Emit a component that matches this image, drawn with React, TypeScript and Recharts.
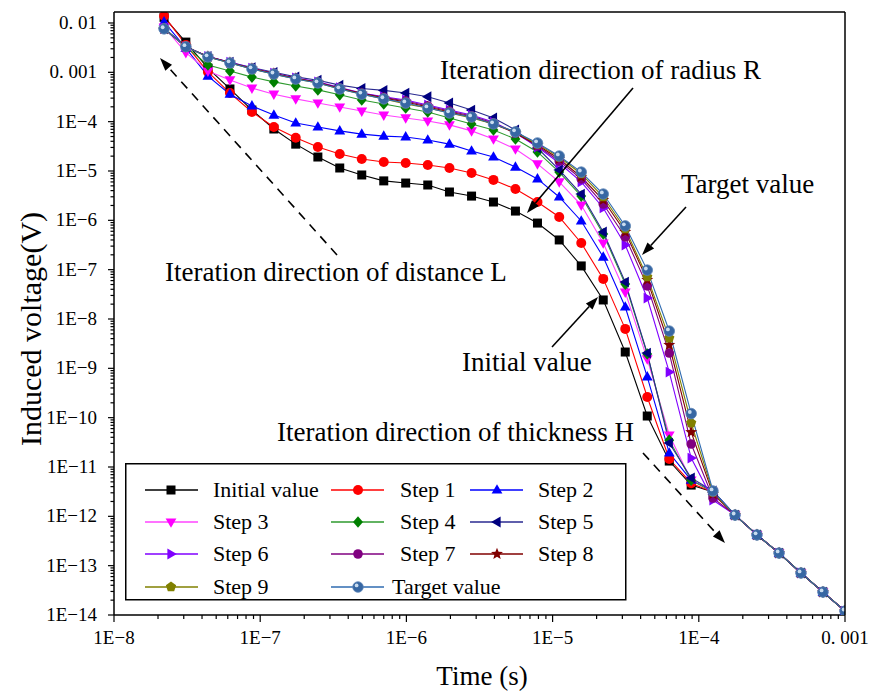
import React from "react";
import { LineChart, Line, XAxis, YAxis, Legend } from "recharts";

const W = 871;
const H = 693;
const FONT = "Liberation Serif, Times New Roman, serif";

// time samples (s)
const times = [
  2.2e-8, 3.1e-8, 4.39e-8, 6.21e-8, 8.78e-8, 1.24e-7, 1.75e-7, 2.48e-7, 3.5e-7, 4.95e-7, 7.0e-7,
  9.89e-7, 1.4e-6, 1.97e-6, 2.79e-6, 3.94e-6, 5.57e-6, 7.88e-6, 1.11e-5, 1.57e-5, 2.22e-5,
  3.14e-5, 4.44e-5, 6.28e-5, 8.87e-5, 1.25e-4, 1.77e-4, 2.5e-4, 3.54e-4, 5.0e-4, 7.07e-4, 1.0e-3,
];

const initialValue = [
  1.3e-2, 4.1e-3, 1.22e-3, 4.6e-4, 1.72e-4, 7.1e-5, 3.5e-5, 1.92e-5, 1.15e-5, 8.3e-6, 6.3e-6,
  5.7e-6, 5.2e-6, 3.75e-6, 3.1e-6, 2.35e-6, 1.54e-6, 8.8e-7, 4.0e-7, 1.19e-7, 2.43e-8,
  2.14e-9, 1.08e-10, 1.32e-11, 4.3e-12, 3.1e-12, 1.06e-12, 4.2e-13, 1.8e-13, 7.1e-14, 2.92e-14, 1.2e-14,
];
const step1 = [
  1.39e-2, 3.6e-3, 1.02e-3, 3.8e-4, 1.57e-4, 7.8e-5, 4.7e-5, 3.06e-5, 2.21e-5, 1.75e-5, 1.52e-5,
  1.45e-5, 1.32e-5, 1.15e-5, 9.1e-6, 6.6e-6, 4.3e-6, 2.35e-6, 1.17e-6, 3.47e-7, 6.5e-8,
  6.3e-9, 2.62e-10, 1.45e-11, 4.7e-12, 3.1e-12, 1.06e-12, 4.2e-13, 1.8e-13, 7.1e-14, 2.92e-14, 1.2e-14,
];
const step2 = [
  1.05e-2, 3.1e-3, 8.4e-4, 3.6e-4, 2.08e-4, 1.36e-4, 9.4e-5, 7.8e-5, 6.5e-5, 5.6e-5, 5.1e-5,
  4.9e-5, 4.25e-5, 3.5e-5, 2.54e-5, 1.92e-5, 1.2e-5, 6.9e-6, 2.97e-6, 9.7e-7, 1.8e-7,
  1.75e-8, 6.7e-10, 1.92e-11, 5.4e-12, 3.26e-12, 1.06e-12, 4.2e-13, 1.8e-13, 7.1e-14, 2.92e-14, 1.2e-14,
];
const step3 = [
  8.3e-3, 2.5e-3, 1.06e-3, 7.0e-4, 4.8e-4, 3.6e-4, 2.9e-4, 2.39e-4, 1.98e-4, 1.64e-4, 1.36e-4,
  1.19e-4, 1.03e-4, 8.6e-5, 6.5e-5, 4.45e-5, 2.79e-5, 1.39e-5, 6.0e-6, 2.04e-6, 3.47e-7,
  3.5e-8, 1.55e-9, 4.45e-11, 5.4e-12, 3.1e-12, 1.06e-12, 4.2e-13, 1.8e-13, 7.1e-14, 2.92e-14, 1.2e-14,
];
const step4 = [
  7.9e-3, 3.3e-3, 1.41e-3, 1.06e-3, 8.0e-4, 6.4e-4, 5.3e-4, 4.4e-4, 3.5e-4, 2.75e-4, 2.28e-4,
  1.89e-4, 1.57e-4, 1.19e-4, 9.0e-5, 6.8e-5, 4.45e-5, 2.43e-5, 9.5e-6, 3.1e-6, 5.3e-7,
  5.1e-8, 1.95e-9, 3.5e-11, 5.4e-12, 3.1e-12, 1.06e-12, 4.2e-13, 1.8e-13, 7.1e-14, 2.92e-14, 1.2e-14,
];
const step5 = [
  7.6e-3, 3.3e-3, 2.1e-3, 1.6e-3, 1.25e-3, 1.0e-3, 8.1e-4, 6.9e-4, 5.5e-4, 4.7e-4, 4.3e-4,
  3.8e-4, 3.2e-4, 2.39e-4, 1.72e-4, 1.19e-4, 6.8e-5, 2.92e-5, 1.05e-5, 3.41e-6, 5.8e-7,
  5.6e-8, 2.04e-9, 3.06e-11, 6.0e-12, 3.26e-12, 1.06e-12, 4.2e-13, 1.8e-13, 7.1e-14, 2.92e-14, 1.2e-14,
];
const step6 = [
  7.7e-3, 3.3e-3, 2.1e-3, 1.6e-3, 1.22e-3, 9.6e-4, 7.7e-4, 6.4e-4, 4.9e-4, 3.8e-4, 3.2e-4,
  2.75e-4, 2.18e-4, 1.72e-4, 1.36e-4, 9.8e-5, 5.9e-5, 3.06e-5, 1.45e-5, 6.0e-6, 1.78e-6,
  3.16e-7, 2.66e-8, 8.4e-10, 1.52e-11, 2.14e-12, 1.06e-12, 4.2e-13, 1.8e-13, 7.1e-14, 2.92e-14, 1.2e-14,
];
const step7 = [
  7.7e-3, 3.3e-3, 2.1e-3, 1.58e-3, 1.2e-3, 9.5e-4, 7.6e-4, 6.3e-4, 4.8e-4, 3.75e-4, 3.1e-4,
  2.62e-4, 2.08e-4, 1.64e-4, 1.3e-4, 9.4e-5, 5.9e-5, 3.21e-5, 1.59e-5, 6.9e-6, 2.14e-6,
  4.6e-7, 4.7e-8, 2.04e-9, 2.92e-11, 2.35e-12, 1.06e-12, 4.2e-13, 1.8e-13, 7.1e-14, 2.92e-14, 1.2e-14,
];
const step8 = [
  7.6e-3, 3.3e-3, 2.08e-3, 1.57e-3, 1.19e-3, 9.4e-4, 7.5e-4, 6.2e-4, 4.7e-4, 3.7e-4, 3.0e-4,
  2.51e-4, 1.98e-4, 1.57e-4, 1.24e-4, 9.0e-5, 5.9e-5, 3.36e-5, 1.75e-5, 7.55e-6, 2.58e-6,
  5.8e-7, 6.2e-8, 2.97e-9, 5.1e-11, 2.83e-12, 1.06e-12, 4.2e-13, 1.8e-13, 7.1e-14, 2.92e-14, 1.2e-14,
];
const step9 = [
  7.6e-3, 3.3e-3, 2.05e-3, 1.55e-3, 1.17e-3, 9.2e-4, 7.3e-4, 6.1e-4, 4.6e-4, 3.6e-4, 2.9e-4,
  2.28e-4, 1.89e-4, 1.5e-4, 1.19e-4, 9.0e-5, 6.2e-5, 3.5e-5, 1.92e-5, 8.7e-6, 2.97e-6,
  6.7e-7, 7.1e-8, 4.1e-9, 7.8e-11, 3.1e-12, 1.06e-12, 4.2e-13, 1.8e-13, 7.1e-14, 2.92e-14, 1.2e-14,
];
const targetValue = [
  7.6e-3, 3.3e-3, 2.05e-3, 1.55e-3, 1.17e-3, 9.2e-4, 7.3e-4, 6.1e-4, 4.6e-4, 3.6e-4, 2.9e-4,
  2.39e-4, 1.89e-4, 1.5e-4, 1.24e-4, 9.0e-5, 6.2e-5, 3.7e-5, 2.01e-5, 9.5e-6, 3.41e-6,
  7.7e-7, 9.8e-8, 5.7e-9, 1.21e-10, 3.26e-12, 1.06e-12, 4.2e-13, 1.8e-13, 7.1e-14, 2.92e-14, 1.2e-14,
];

const xMajor = [1e-8, 1e-7, 1e-6, 1e-5, 1e-4, 1e-3];
const xMajorLabels = ["1E\u22128", "1E\u22127", "1E\u22126", "1E\u22125", "1E\u22124", "0. 001"];
const yMajor = [1e-14, 1e-13, 1e-12, 1e-11, 1e-10, 1e-9, 1e-8, 1e-7, 1e-6, 1e-5, 1e-4, 1e-3, 1e-2];
const yMajorLabels = [
  "1E\u221214", "1E\u221213", "1E\u221212", "1E\u221211", "1E\u221210", "1E\u22129", "1E\u22128",
  "1E\u22127", "1E\u22126", "1E\u22125", "1E\u22124", "0. 001", "0. 01",
];

type Shape = "square" | "circle" | "up" | "down" | "diamond" | "left" | "right" | "hex" | "star" | "pentagon" | "sphere";

const seriesList: { key: string; name: string; values: number[]; color: string; line: string; shape: Shape }[] = [
  { key: "initial", name: "Initial value", values: initialValue, color: "#000000", line: "#000000", shape: "square" },
  { key: "s1", name: "Step 1", values: step1, color: "#ff0000", line: "#ff0000", shape: "circle" },
  { key: "s2", name: "Step 2", values: step2, color: "#0000ff", line: "#0000ff", shape: "up" },
  { key: "s3", name: "Step 3", values: step3, color: "#ff00ff", line: "#ff44ff", shape: "down" },
  { key: "s4", name: "Step 4", values: step4, color: "#008000", line: "#2e9a2e", shape: "diamond" },
  { key: "s5", name: "Step 5", values: step5, color: "#000080", line: "#2a2a90", shape: "left" },
  { key: "s6", name: "Step 6", values: step6, color: "#8000ff", line: "#8000ff", shape: "right" },
  { key: "s7", name: "Step 7", values: step7, color: "#800080", line: "#800080", shape: "hex" },
  { key: "s8", name: "Step 8", values: step8, color: "#800000", line: "#800000", shape: "star" },
  { key: "s9", name: "Step 9", values: step9, color: "#808000", line: "#808000", shape: "pentagon" },
  { key: "target", name: "Target value", values: targetValue, color: "#3767a3", line: "#2f6bb0", shape: "sphere" },
];

const rows = times.map((t, i) => {
  const r: any = { t };
  seriesList.forEach((s) => (r[s.key] = s.values[i]));
  return r;
});

const withMinor = (majors: number[]) =>
  majors.flatMap((m, i) => (i === majors.length - 1 ? [m] : [1, 2, 3, 4, 5, 6, 7, 8, 9].map((k) => m * k)));
const xTicks = withMinor(xMajor);
const yTicks = withMinor(yMajor);

const majorIndex = (majors: number[], v: number) =>
  majors.findIndex((m) => Math.abs(Math.log10(m) - Math.log10(v)) < 1e-6);

function Marker({ shape, cx, cy, color, r = 4.5 }: { shape: Shape; cx: number; cy: number; color: string; r?: number }) {
  const pts = (arr: number[][]) => arr.map(([a, b]) => `${cx + a},${cy + b}`).join(" ");
  switch (shape) {
    case "square":
      return <rect x={cx - r} y={cy - r} width={2 * r} height={2 * r} fill={color} />;
    case "circle":
      return <circle cx={cx} cy={cy} r={r + 0.5} fill={color} />;
    case "hex":
      return <circle cx={cx} cy={cy} r={r + 0.3} fill={color} />;
    case "up":
      return <polygon points={pts([[0, -r * 1.3], [r * 1.2, r * 0.8], [-r * 1.2, r * 0.8]])} fill={color} />;
    case "down":
      return <polygon points={pts([[0, r * 1.3], [r * 1.2, -r * 0.8], [-r * 1.2, -r * 0.8]])} fill={color} />;
    case "left":
      return <polygon points={pts([[-r * 1.3, 0], [r * 0.8, -r * 1.2], [r * 0.8, r * 1.2]])} fill={color} />;
    case "right":
      return <polygon points={pts([[r * 1.3, 0], [-r * 0.8, -r * 1.2], [-r * 0.8, r * 1.2]])} fill={color} />;
    case "diamond":
      return <polygon points={pts([[0, -r * 1.3], [r * 1.1, 0], [0, r * 1.3], [-r * 1.1, 0]])} fill={color} />;
    case "pentagon": {
      const p = [0, 1, 2, 3, 4].map((k) => {
        const a = -Math.PI / 2 + (k * 2 * Math.PI) / 5;
        return [Math.cos(a) * r * 1.2, Math.sin(a) * r * 1.2];
      });
      return <polygon points={pts(p)} fill={color} />;
    }
    case "star": {
      const p = Array.from({ length: 10 }, (_, k) => {
        const a = -Math.PI / 2 + (k * Math.PI) / 5;
        const rr = k % 2 === 0 ? r * 1.4 : r * 0.6;
        return [Math.cos(a) * rr, Math.sin(a) * rr];
      });
      return <polygon points={pts(p)} fill={color} />;
    }
    case "sphere":
      return (
        <g>
          <circle cx={cx} cy={cy} r={r + 0.8} fill={color} stroke="#5f86b8" strokeWidth={0.8} />
          <circle cx={cx - 1.4} cy={cy - 1.6} r={1.9} fill="#c9dcef" />
        </g>
      );
  }
  return null;
}

function XTick(props: any) {
  const { x, y, payload } = props;
  const idx = majorIndex(xMajor, payload.value);
  const major = idx >= 0;
  return (
    <g>
      <line x1={x} x2={x} y1={y} y2={y + (major ? 7 : 4)} stroke="#000" strokeWidth={1.2} />
      {major && (
        <text x={x} y={y + 29} textAnchor="middle" fontFamily={FONT} fontSize={19} fill="#000">
          {xMajorLabels[idx]}
        </text>
      )}
    </g>
  );
}

function YTick(props: any) {
  const { x, y, payload } = props;
  const idx = majorIndex(yMajor, payload.value);
  const major = idx >= 0;
  return (
    <g>
      <line x1={x} x2={x - (major ? 6 : 3.5)} y1={y} y2={y} stroke="#000" strokeWidth={1.2} />
      {major && (
        <text x={x - 17} y={y + 6} textAnchor="end" fontFamily={FONT} fontSize={19} fill="#000">
          {yMajorLabels[idx]}
        </text>
      )}
    </g>
  );
}

// legend grid: 3 columns x 4 rows
const legendCols = [
  { lx: 20, mx: 46, tx: 88 },
  { lx: 206, mx: 233, tx: 275 },
  { lx: 345, mx: 372, tx: 413 },
];
const legendRows = [27, 59, 91, 124];

function LegendBox({ payload }: { payload?: any[] }) {
  const items = (payload || []).map((p) => seriesList.find((s) => s.key === p.dataKey)!).filter(Boolean);
  return (
    <svg width={502} height={138} style={{ display: "block" }}>
      <rect x={0.75} y={0.75} width={500} height={136} fill="#fff" stroke="#000" strokeWidth={1.5} />
      {items.map((s, i) => {
        const c = legendCols[i % 3];
        const y = legendRows[Math.floor(i / 3)];
        const tx = s.key === "target" ? c.tx - 8 : c.tx;
        return (
          <g key={s.key}>
            <line x1={c.lx} x2={c.lx + 53} y1={y} y2={y} stroke={s.line} strokeWidth={1.3} />
            <Marker shape={s.shape} cx={c.mx} cy={y} color={s.color} />
            <text x={tx} y={y + 7} fontFamily={FONT} fontSize={22} fill="#000">
              {s.name}
            </text>
          </g>
        );
      })}
    </svg>
  );
}

function Arrow({ x1, y1, x2, y2, dashed }: { x1: number; y1: number; x2: number; y2: number; dashed?: boolean }) {
  const ang = Math.atan2(y2 - y1, x2 - x1);
  const L = 13;
  const w = 4.5;
  const bx = x2 - Math.cos(ang) * L;
  const by = y2 - Math.sin(ang) * L;
  const px = -Math.sin(ang) * w;
  const py = Math.cos(ang) * w;
  return (
    <g>
      <line x1={x1} y1={y1} x2={bx} y2={by} stroke="#000" strokeWidth={1.6} strokeDasharray={dashed ? "9 7" : undefined} />
      <polygon points={`${x2},${y2} ${bx + px},${by + py} ${bx - px},${by - py}`} fill="#000" />
    </g>
  );
}

export default function App() {
  return (
    <div style={{ position: "absolute", left: 0, top: 0, width: W, height: H, background: "#fff" }}>
      <LineChart width={W} height={H} data={rows} margin={{ top: 12, right: 26, bottom: 0, left: 0 }}>
        <XAxis
          dataKey="t"
          type="number"
          scale="log"
          domain={[1e-8, 1e-3]}
          allowDataOverflow
          ticks={xTicks}
          interval={0}
          tick={<XTick />}
          tickLine={false}
          tickSize={0}
          tickMargin={0}
          height={78}
          axisLine={{ stroke: "#000", strokeWidth: 1.5 }}
        />
        <YAxis
          type="number"
          scale="log"
          domain={[1e-14, 0.0167]}
          allowDataOverflow
          ticks={yTicks}
          interval={0}
          tick={<YTick />}
          tickLine={false}
          tickSize={0}
          tickMargin={0}
          width={114}
          axisLine={{ stroke: "#000", strokeWidth: 1.5 }}
        />
        {seriesList.map((s) => (
          <Line
            key={s.key}
            dataKey={s.key}
            name={s.name}
            stroke={s.line}
            strokeWidth={1.1}
            isAnimationActive={false}
            activeDot={false}
            dot={(p: any) => (
              <Marker key={`${s.key}-${p.index}`} shape={s.shape} cx={p.cx} cy={p.cy} color={s.color} />
            )}
          />
        ))}
        <Legend
          layout="vertical"
          verticalAlign="middle"
          align="center"
          wrapperStyle={{ left: 125, top: 463, width: 502, height: 138 }}
          content={(p: any) => <LegendBox payload={p.payload} />}
        />
      </LineChart>
      <svg width={W} height={H} style={{ position: "absolute", left: 0, top: 0, pointerEvents: "none" }}>
        <line x1={114} y1={12} x2={845} y2={12} stroke="#000" strokeWidth={1.5} />
        <line x1={845} y1={12} x2={845} y2={615} stroke="#000" strokeWidth={1.5} />
        <g fontFamily={FONT} fontSize={27} fill="#000">
          <text x={440} y={79}>Iteration direction of radius R</text>
          <text x={681} y={193}>Target value</text>
          <text x={165} y={281}>Iteration direction of distance L</text>
          <text x={462} y={371}>Initial value</text>
          <text x={277} y={441}>Iteration direction of thickness H</text>
          <text x={482} y={685} textAnchor="middle">Time (s)</text>
          <text transform="translate(41,329) rotate(-90)" textAnchor="middle" fontSize={30}>
            Induced voltage(V)
          </text>
        </g>
        <Arrow x1={633} y1={88} x2={527} y2={213} />
        <Arrow x1={686} y1={207} x2={642} y2={255} />
        <Arrow x1={552} y1={347} x2={598} y2={297} />
        <Arrow x1={337} y1={255} x2={160} y2={58} dashed />
        <Arrow x1={643} y1={453} x2={725} y2={543} dashed />
      </svg>
    </div>
  );
}
